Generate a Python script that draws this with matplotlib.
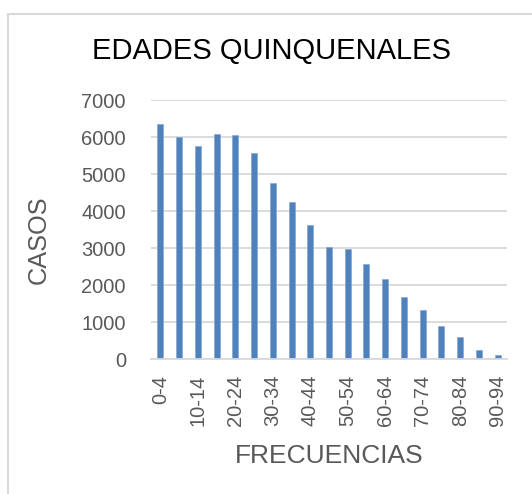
import matplotlib
matplotlib.use('Agg')
import matplotlib.pyplot as plt
from matplotlib.patches import Rectangle

plt.rcParams['font.family'] = ['Liberation Sans', 'DejaVu Sans']

# grupos quinquenales de edad
categorias = ['0-4', '5-9', '10-14', '15-19', '20-24', '25-29', '30-34', '35-39',
              '40-44', '45-49', '50-54', '55-59', '60-64', '65-69', '70-74',
              '75-79', '80-84', '85-89', '90-94']
casos = [6360, 5990, 5770, 6080, 6050, 5580, 4760, 4255, 3630, 3020,
         2980, 2580, 2170, 1670, 1330, 910, 600, 260, 110]
yticks = [0, 1000, 2000, 3000, 4000, 5000, 6000, 7000]

gris = '#595959'
linea = '#D9D9D9'

fig = plt.figure(figsize=(5.32, 4.94), dpi=100)
ax = fig.add_axes([151/532, 1 - 359.3/494, 356/532, 259.3/494])

x = list(range(len(categorias)))
ax.bar(x, casos, width=0.32, color='#4F81BD', edgecolor='#7FA3D1', linewidth=0.4, zorder=3)

ax.set_xlim(-0.5, len(categorias) - 0.5)
ax.set_ylim(0, 7000)
ax.set_yticks(yticks)
ax.set_yticklabels([str(v) for v in yticks])
ax.yaxis.grid(True, color=linea, linewidth=1.3, zorder=0)
ax.set_xticks(x[::2])
ax.set_xticklabels(categorias[::2], rotation=90, va='top', ha='center')

for s in ['top', 'right', 'left']:
    ax.spines[s].set_visible(False)
ax.spines['bottom'].set_color(linea)
ax.spines['bottom'].set_linewidth(1.3)
ax.spines['bottom'].set_zorder(4)

ax.tick_params(axis='y', length=0, pad=18, labelsize=14.5, labelcolor=gris)
ax.tick_params(axis='x', length=0, pad=11, labelsize=14.5, labelcolor=gris)

ax.set_ylabel('CASOS', fontsize=18.3, color=gris, va='center')
ax.yaxis.set_label_coords(-0.315, 0.461)

fig.text(329/532, 1 - 463.3/494, 'FRECUENCIAS', fontsize=19, color=gris,
         ha='center', va='baseline')
fig.text(271/532, 1 - 59.3/494, 'EDADES QUINQUENALES', fontsize=21, color='black',
         ha='center', va='baseline')

# marco del grafico (cortado a la derecha y abajo)
fig.patches.append(Rectangle((8/532, -0.1), 1.2, 1.1 - 14/494, transform=fig.transFigure,
                             fill=False, edgecolor=linea, linewidth=1.5))

fig.savefig('out.png', dpi=100)
